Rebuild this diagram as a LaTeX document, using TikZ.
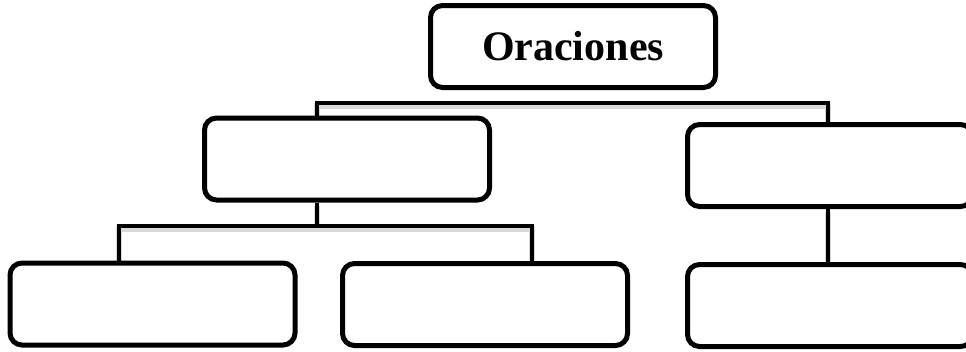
\documentclass[tikz,border=0pt]{standalone}
\usepackage{fontspec}
\setmainfont{Liberation Serif}
\usetikzlibrary{backgrounds}
\begin{document}
\begin{tikzpicture}[x=1pt,y=-1pt]
\tikzstyle{box}=[draw, rectangle, rounded corners=12pt, line width=5pt, minimum width=285pt, minimum height=82pt, fill=white, inner sep=0pt]
\tikzstyle{conn}=[draw, line width=4.5pt, preaction={draw=black!15, line width=6pt, transform canvas={yshift=-3pt}}]

\useasboundingbox (0,0) rectangle (966,351);

% Define boxes
\node[box, font=\fontsize{42}{50}\selectfont\bfseries] (root) at (573,46.5) {Oraciones};
\node[box] (midleft) at (347,159) {};
\node[box] (midright) at (830,165.5) {};
\node[box] (leafa) at (152.5,304) {};
\node[box] (leafb) at (485,304.5) {};
\node[box] (leafc) at (830,305.5) {};

% Bus points
\coordinate (bus1) at (573,103);
\coordinate (bus2) at (317,226);

% Connectors
\begin{scope}[on background layer]
\draw[conn] ([xshift=-30pt]midleft.north) |- (bus1) -| ([xshift=-2pt]midright.north);
\draw[conn] ([xshift=-30pt]midleft.south) -- (bus2);
\draw[conn] ([xshift=-33.5pt]leafa.north) |- (bus2) -| ([xshift=47pt]leafb.north);
\draw[conn] ([xshift=-2pt]midright.south) -- ([xshift=-2pt]leafc.north);
\end{scope}
\end{tikzpicture}
\end{document}
